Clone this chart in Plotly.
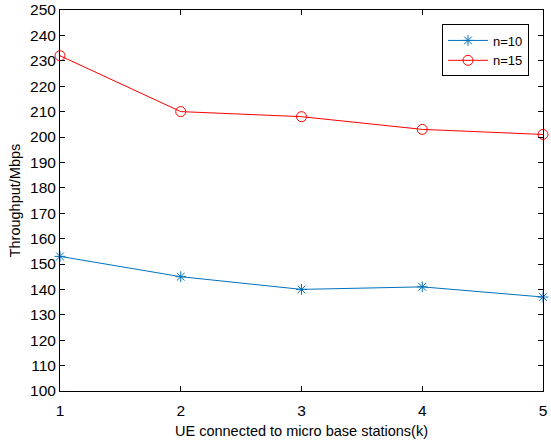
import plotly.graph_objects as go

k = [1, 2, 3, 4, 5]
n10 = [153, 145, 140, 141, 137]
n15 = [232, 210, 208, 203, 201]

FONT = "Liberation Sans, Arial"

fig = go.Figure()
fig.add_trace(go.Scatter(x=k, y=n10, mode="lines+markers", name="n=10", cliponaxis=False,
                         line=dict(color="#0072BD", width=1),
                         marker=dict(symbol="asterisk-open", size=9, color="#0072BD",
                                     line=dict(color="#0072BD", width=1))))
fig.add_trace(go.Scatter(x=k, y=n15, mode="lines+markers", name="n=15", cliponaxis=False,
                         line=dict(color="#FF0000", width=1),
                         marker=dict(symbol="circle-open", size=10, color="#FF0000",
                                     line=dict(color="#FF0000", width=1))))

axis_common = dict(showline=True, linecolor="black", linewidth=1, mirror="ticks",
                   ticks="inside", ticklen=5, tickcolor="black", showgrid=False,
                   zeroline=False, automargin=False, ticklabeloverflow="allow",
                   tickfont=dict(family=FONT, size=15.5, color="black"))
fig.update_xaxes(range=[1, 5], tickvals=[1, 2, 3, 4, 5], ticklabelstandoff=5,
                 title=dict(text="UE connected to micro base stations(k)",
                            font=dict(family=FONT, size=14.5, color="black"), standoff=8),
                 **axis_common)
fig.update_yaxes(range=[100, 250], tickvals=list(range(100, 251, 10)),
                 title=dict(text="Throughput/Mbps",
                            font=dict(family=FONT, size=14.5, color="black"), standoff=5),
                 **axis_common)
fig.update_layout(width=551, height=442, margin=dict(l=60, r=8, t=10, b=51),
                  plot_bgcolor="white", paper_bgcolor="white",
                  legend=dict(x=0.971, y=0.962, xanchor="right", yanchor="top",
                              bordercolor="black", borderwidth=1, bgcolor="white",
                              font=dict(family=FONT, size=13, color="black"),
                              tracegroupgap=0, itemwidth=40))
fig.write_html("out.html", post_script="document.body.style.margin='0';",
               config={"displayModeBar": False})
